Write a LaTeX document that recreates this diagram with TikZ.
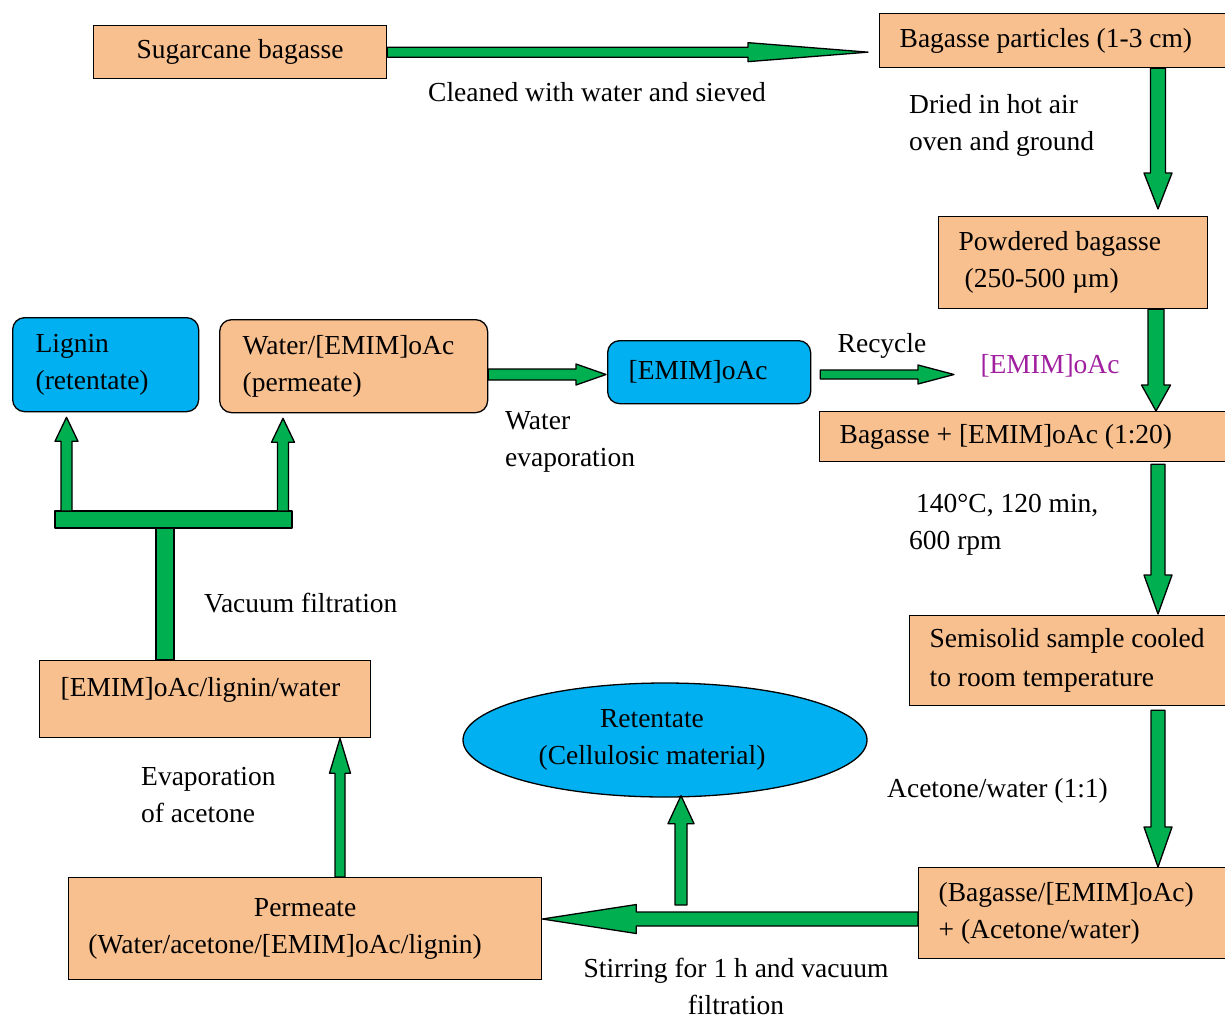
\documentclass[tikz,border=0pt]{standalone}
\usepackage{fontspec}
\setmainfont{Liberation Serif}
\usepackage{tikz}
\usetikzlibrary{shapes.geometric,calc}
\usepackage{xcolor}
\definecolor{peach}{HTML}{F8BF8F}
\definecolor{sky}{HTML}{00B0F0}
\definecolor{leaf}{HTML}{00B050}
\definecolor{plum}{HTML}{A020A0}
\newcommand{\lpad}[1]{\hspace*{#1pt}}
\newcommand{\barrow}[5]{%
  \coordinate (hb) at ($(#2)!#5!(#1)$);
  \draw[gblock] ($(#1)!#3!90:(#2)$) -- ($(hb)!#3!90:(#2)$) -- ($(hb)!#4!90:(#2)$) -- (#2)
    -- ($(hb)!#4!-90:(#2)$) -- ($(hb)!#3!-90:(#2)$) -- ($(#1)!#3!-90:(#2)$) -- cycle;
}
\tikzset{
  box/.style={draw, fill=peach, line width=1.3pt, inner sep=0pt, anchor=north west, align=flush left},
  rbox/.style={box, rounded corners=12pt},
  lbl/.style={inner sep=0pt},
  gblock/.style={draw=black, fill=leaf, line width=1.3pt, line join=round}
}

\begin{document}
\begin{tikzpicture}[x=1pt, y=-1pt, font=\fontsize{27.5}{37}\selectfont]
  \useasboundingbox (0,0) rectangle (1225,1018);

  \node[box, text width=293pt, minimum height=53pt, align=flush center] (sb) at (93,25) {Sugarcane bagasse};
  \node[box, text width=346pt, minimum height=54pt] (bp) at (879,13) {\lpad{20}Bagasse particles (1-3 cm)};
  \node[box, text width=269pt, minimum height=92pt] (pb) at (938,216) {\lpad{20}Powdered bagasse\\\lpad{26}(250-500 µm)};
  \node[box, text width=406pt, minimum height=50pt] (mix) at (819,411) {\lpad{20}Bagasse + [EMIM]oAc (1:20)};
  \node[box, text width=316pt, minimum height=90pt] (semi) at (909,615) {\lpad{20}Semisolid sample cooled\\[2pt]\lpad{20}to room temperature};
  \node[box, text width=307pt, minimum height=91pt] (ba) at (918,867) {\lpad{20}(Bagasse/[EMIM]oAc)\\\lpad{20}+ (Acetone/water)};
  \node[box, text width=473pt, minimum height=102pt, align=flush center] (perm) at (68,877) {Permeate\\(Water/acetone/[EMIM]oAc/lignin)\lpad{40}\mbox{}};
  \node[box, text width=331pt, minimum height=77pt, text depth=25pt] (elw) at (39,660) {\lpad{21}[EMIM]oAc/lignin/water};
  \node[rbox, fill=sky, text width=186pt, minimum height=94pt] (lig) at (12,317) {\lpad{23}Lignin\\\lpad{23}(retentate)};
  \node[rbox, text width=268pt, minimum height=93pt] (wem) at (219,319) {\lpad{23}Water/[EMIM]oAc\\\lpad{23}(permeate)};
  \node[rbox, fill=sky, text width=203pt, minimum height=63pt] (emim) at (607,340) {\lpad{21}[EMIM]oAc};
  \node[draw, ellipse, fill=sky, line width=1.3pt, minimum width=404pt, minimum height=114pt, inner sep=0pt, align=center] (ret) at (665,740) {Retentate\lpad{26}\\(Cellulosic material)\lpad{26}};

  \node[lbl] (clean) at (597,92) {Cleaned with water and sieved};
  \node[lbl, anchor=west, align=left] (dried) at (909,125.5) {Dried in hot air\\oven and ground};
  \node[lbl] (recyc) at (882,346) {Recycle};
  \node[lbl, text=plum] (emimr) at (1050,366) {[EMIM]oAc};
  \node[lbl, anchor=west, align=left] (watev) at (505,441.5) {Water\\evaporation};
  \node[lbl, anchor=west, align=left] (cond) at (909,524.5) {\lpad{7}140°C, 120 min,\\600 rpm};
  \node[lbl, anchor=west] (vac) at (204,603) {Vacuum filtration};
  \node[lbl, anchor=west, align=left] (evap) at (141,795) {Evaporation\\of acetone};
  \node[lbl, anchor=west] (aw) at (887,791) {Acetone/water (1:1)};
  \node[lbl, align=center] (stir) at (736,986) {Stirring for 1 h and vacuum\\filtration};

  \coordinate (a1s) at (sb.east);
  \coordinate (a1t) at ($(sb.east -| bp.west)+(-11,0)$);
  \barrow{a1s}{a1t}{5pt}{9.5pt}{120pt}
  \coordinate (a2s) at (bp.south -| 1158,0);
  \coordinate (a2t) at ($(pb.north -| 1158,0)+(0,-7)$);
  \barrow{a2s}{a2t}{7.5pt}{14pt}{36pt}
  \coordinate (a3s) at (pb.south -| 1156,0);
  \coordinate (a3t) at (mix.north -| 1156,0);
  \barrow{a3s}{a3t}{8pt}{14.5pt}{26pt}
  \coordinate (a4s) at ($(mix.south -| 1158,0)+(0,2)$);
  \coordinate (a4t) at ($(semi.north -| 1158,0)+(0,-1)$);
  \barrow{a4s}{a4t}{7pt}{14pt}{39pt}
  \coordinate (a5s) at ($(semi.south -| 1158,0)+(0,4)$);
  \coordinate (a5t) at (ba.north -| 1158,0);
  \barrow{a5s}{a5t}{7pt}{14pt}{40pt}
  \coordinate (a6s) at (ba.west |- 0,919);
  \coordinate (a6t) at (perm.east |- 0,919);
  \barrow{a6s}{a6t}{7pt}{14.5pt}{94pt}
  \coordinate (a7s) at (681,905);
  \coordinate (a7t) at ($(ret.south -| 681,0)+(0,-2)$);
  \barrow{a7s}{a7t}{6pt}{13pt}{28pt}
  \coordinate (a8s) at (perm.north -| 340,0);
  \coordinate (a8t) at (elw.south -| 340,0);
  \barrow{a8s}{a8t}{5pt}{10.5pt}{35pt}

  \coordinate (stem) at (elw.north -| 156,0);
  \draw[gblock] (stem) rectangle (174,528);
  \draw[gblock] (55,511) rectangle (292,528);
  \coordinate (a9s) at (66.5,511);
  \coordinate (a9t) at ($(lig.south -| 66.5,0)+(0,5)$);
  \barrow{a9s}{a9t}{5.5pt}{11.5pt}{24pt}
  \coordinate (a10s) at (283,511);
  \coordinate (a10t) at ($(wem.south -| 283,0)+(0,5)$);
  \barrow{a10s}{a10t}{5.5pt}{11.5pt}{24pt}
  \coordinate (a11s) at (wem.east |- 0,374.5);
  \coordinate (a11t) at ($(emim.west |- 0,374.5)+(-1,0)$);
  \barrow{a11s}{a11t}{5.5pt}{10.5pt}{30pt}
  \coordinate (a12s) at ($(emim.east |- 0,374.5)+(9,0)$);
  \coordinate (a12t) at (954,374.5);
  \barrow{a12s}{a12t}{4.5pt}{9.5pt}{36pt}
\end{tikzpicture}
\end{document}
